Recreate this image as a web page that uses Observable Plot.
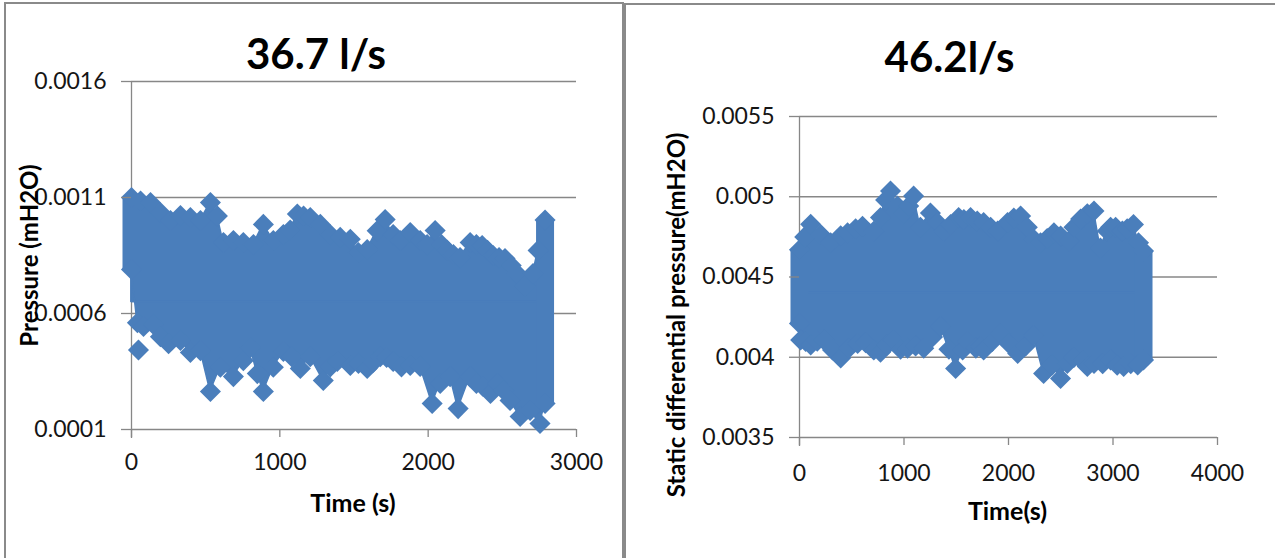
<!DOCTYPE html>
<html>
<head>
<meta charset="utf-8">
<script src="https://cdn.jsdelivr.net/npm/d3@7"></script>
<script src="https://cdn.jsdelivr.net/npm/@observablehq/plot@0.6"></script>
<style>
  html, body { margin: 0; padding: 0; background: #fff; width: 1275px; height: 558px; overflow: hidden; }
  .panel { position: absolute; box-sizing: border-box; border: 2px solid #8a8a8a; border-bottom: none; }
  #panelLeft { left: 4px; top: 2px; width: 620px; height: 600px; }
  #panelRight { left: 624px; top: 3px; width: 700px; height: 600px; }
  .chart { position: absolute; top: 0; }
  #chartLeft { left: 0; }
  #chartRight { left: 625px; }
</style>
</head>
<body>
<div class="panel" id="panelLeft"></div>
<div class="panel" id="panelRight"></div>
<div class="chart" id="chartLeft"></div>
<div class="chart" id="chartRight"></div>
<script>
// ---- 36.7 l/s run: upper and lower edge of the reading cloud ----
const flowATitle = "36.7 l/s";
const flowAYLabel = "Pressure (mH2O)";
const flowAXLabel = "Time (s)";
const flowATopTime = [0, 61, 128, 195, 263, 330, 397, 465, 532, 579, 620, 687, 754, 822, 889, 956, 1024, 1070, 1118, 1160, 1205, 1273, 1340, 1407, 1475, 1529, 1589, 1656, 1710, 1764, 1811, 1879, 1946, 1993, 2047, 2090, 2128, 2170, 2215, 2283, 2325, 2364, 2400, 2438, 2478, 2518, 2560, 2599, 2653, 2707, 2741, 2788];
const flowATopValue = [0.00110, 0.001085, 0.001078, 0.001035, 0.001001, 0.001022, 0.001014, 0.001001, 0.001078, 0.00102, 0.000906, 0.000915, 0.000906, 0.000897, 0.000984, 0.000915, 0.00094, 0.00096, 0.001029, 0.00102, 0.001014, 0.000984, 0.00094, 0.000928, 0.00092, 0.000863, 0.000876, 0.000957, 0.001005, 0.00094, 0.000915, 0.000949, 0.000915, 0.000897, 0.000958, 0.000897, 0.000872, 0.000854, 0.000841, 0.000906, 0.000897, 0.000893, 0.000872, 0.00085, 0.000841, 0.000837, 0.000807, 0.000772, 0.00072, 0.000772, 0.000872, 0.001003];
const flowABottomTime = [0, 40, 81, 148, 195, 250, 330, 397, 465, 532, 599, 687, 754, 801, 848, 889, 956, 1024, 1080, 1138, 1205, 1293, 1340, 1387, 1475, 1530, 1589, 1630, 1677, 1720, 1764, 1820, 1879, 1946, 2027, 2081, 2148, 2202, 2283, 2325, 2370, 2420, 2465, 2510, 2552, 2620, 2687, 2754, 2788];
const flowABottomValue = [0.00079, 0.00056, 0.000544, 0.000553, 0.0005, 0.00047, 0.000484, 0.000432, 0.00044, 0.000264, 0.000368, 0.000328, 0.000397, 0.000453, 0.000341, 0.000264, 0.000368, 0.000436, 0.000414, 0.000363, 0.000414, 0.000311, 0.00037, 0.000393, 0.000376, 0.000385, 0.000363, 0.00039, 0.000414, 0.00041, 0.000393, 0.00037, 0.000376, 0.000372, 0.000212, 0.000298, 0.000328, 0.00019, 0.000328, 0.000298, 0.000285, 0.000255, 0.000298, 0.000268, 0.000225, 0.000156, 0.000182, 0.000126, 0.000212];
const flowAStrayTime = [47];
const flowAStrayValue = [0.000443];
const flowACore = 0.00065;
const flowAXDomain = [0, 3000];
const flowAXTicks = [0, 1000, 2000, 3000];
const flowAYDomain = [0.0001, 0.0016];
const flowAYTicks = [0.0001, 0.0006, 0.0011, 0.0016];
const flowAYTickLabels = ["0.0001", "0.0006", "0.0011", "0.0016"];

// ---- 46.2 l/s run ----
const flowBTitle = "46.2l/s";
const flowBYLabel = "Static differential pressure(mH2O)";
const flowBXLabel = "Time(s)";
const flowBTopTime = [0, 50, 107, 203, 298, 394, 460, 537, 603, 711, 775, 824, 871, 938, 996, 1045, 1092, 1157, 1253, 1320, 1380, 1446, 1523, 1573, 1637, 1701, 1762, 1829, 1896, 1991, 2051, 2116, 2180, 2244, 2307, 2370, 2435, 2499, 2578, 2626, 2690, 2754, 2818, 2880, 2945, 2977, 3025, 3090, 3136, 3196, 3244, 3292];
const flowBTopValue = [0.00467, 0.00475, 0.004828, 0.004765, 0.004713, 0.004757, 0.004775, 0.0048, 0.004816, 0.004785, 0.00487, 0.00498, 0.005036, 0.004942, 0.004894, 0.004942, 0.005004, 0.00481, 0.004899, 0.00484, 0.004785, 0.004827, 0.00487, 0.004858, 0.00487, 0.004849, 0.00484, 0.00481, 0.004787, 0.00484, 0.004867, 0.00488, 0.00481, 0.004734, 0.004713, 0.00474, 0.004775, 0.004755, 0.004724, 0.00481, 0.004861, 0.004894, 0.004911, 0.00468, 0.004787, 0.00481, 0.00481, 0.004787, 0.0048, 0.004827, 0.004713, 0.004662];
const flowBBottomTime = [0, 11, 59, 107, 170, 232, 316, 394, 472, 556, 633, 711, 775, 840, 899, 967, 1034, 1111, 1189, 1273, 1350, 1430, 1494, 1561, 1609, 1688, 1733, 1762, 1845, 1925, 2003, 2088, 2164, 2240, 2336, 2419, 2498, 2563, 2626, 2706, 2754, 2818, 2901, 2977, 3040, 3102, 3170, 3236, 3292];
const flowBBottomValue = [0.00421, 0.004107, 0.004098, 0.004076, 0.0041, 0.004107, 0.004045, 0.003995, 0.004056, 0.004086, 0.00409, 0.004045, 0.004031, 0.004076, 0.004107, 0.00405, 0.004056, 0.00407, 0.004056, 0.004126, 0.004192, 0.00405, 0.00393, 0.004045, 0.004098, 0.004056, 0.004067, 0.004045, 0.004098, 0.004148, 0.004086, 0.004023, 0.00407, 0.004136, 0.003899, 0.003952, 0.003868, 0.003961, 0.003998, 0.00398, 0.003942, 0.003961, 0.00396, 0.003983, 0.00395, 0.003942, 0.00396, 0.003952, 0.003983];
const flowBStrayTime = [];
const flowBStrayValue = [];
const flowBCore = 0.0044;
const flowBXDomain = [0, 4000];
const flowBXTicks = [0, 1000, 2000, 3000, 4000];
const flowBYDomain = [0.0035, 0.0055];
const flowBYTicks = [0.0035, 0.004, 0.0045, 0.005, 0.0055];
const flowBYTickLabels = ["0.0035", "0.004", "0.0045", "0.005", "0.0055"];

const MARKER = "#4A7EBB";
const GRID = "#878787";
const INK = "#151515";

function pairs(times, values) {
  return times.map((t, i) => ({t, v: values[i]}));
}

function pressurePanel(o) {
  const top = pairs(o.topTime, o.topValue);
  const bottom = pairs(o.bottomTime, o.bottomValue);
  const stray = pairs(o.strayTime, o.strayValue);
  const n = o.topTime.length - 1, m = o.bottomTime.length - 1;
  // first and last reading columns span the full spread at that instant
  const columns = [
    {t: o.topTime[0], lo: o.bottomValue[0], hi: o.topValue[0]},
    {t: o.topTime[n], lo: o.bottomValue[m], hi: o.topValue[n]}
  ];
  const fmt = (d) => o.yTickLabels[o.yTicks.indexOf(d)];
  return Plot.plot({
    width: o.width,
    height: 558,
    marginLeft: o.margin[3],
    marginTop: o.margin[0],
    marginRight: o.margin[1],
    marginBottom: o.margin[2],
    style: {fontFamily: "Lato, 'Open Sans', sans-serif", fontSize: "23px", background: "transparent", overflow: "visible"},
    x: {domain: o.xDomain},
    y: {domain: o.yDomain},
    marks: [
      Plot.gridY(o.yTicks, {stroke: GRID, strokeOpacity: 1, strokeWidth: 1.3}),
      Plot.ruleX([o.xDomain[0]], {stroke: GRID, strokeWidth: 1.3, insetBottom: -9}),
      Plot.areaY(top, {x: "t", y1: o.core, y2: "v", fill: MARKER, stroke: MARKER, strokeWidth: 1.5}),
      Plot.areaY(bottom, {x: "t", y1: "v", y2: o.core, fill: MARKER, stroke: MARKER, strokeWidth: 1.5}),
      Plot.ruleX(columns, {x: "t", y1: "lo", y2: "hi", stroke: MARKER, strokeWidth: 18}),
      Plot.dot([...top, ...bottom, ...stray], {x: "t", y: "v", symbol: "diamond2", r: 9.5, fill: MARKER}),
      Plot.axisY({ticks: o.yTicks, tickFormat: fmt, tickSize: 10, tickPadding: 15, stroke: GRID, strokeWidth: 1.3, color: INK, fontSize: 23, label: null}),
      Plot.axisX({ticks: o.xTicks, tickFormat: (d) => String(d), tickSize: 8, tickPadding: o.xPad, stroke: GRID, strokeWidth: 1.3, color: INK, fontSize: 23, label: null}),
      Plot.text([o.title], {frameAnchor: "top", text: (d) => d, dx: o.titleDx, dy: o.titleDy, fontSize: 42, fontWeight: "bold", fill: "#000", lineAnchor: "middle"}),
      Plot.text([o.xLabel], {frameAnchor: "bottom", text: (d) => d, dx: o.xLabelDx, dy: o.xLabelDy, fontSize: 25, fontWeight: "bold", fill: "#000", lineAnchor: "middle"}),
      Plot.text([o.yLabel], {frameAnchor: "left", text: (d) => d, dx: o.yLabelDx, dy: o.yLabelDy, rotate: -90, fontSize: 24, fontWeight: "bold", fill: "#000", textAnchor: "middle", lineAnchor: "middle"})
    ]
  });
}

document.getElementById("chartLeft").append(pressurePanel({
  width: 620, margin: [81, 44, 129, 131],
  title: flowATitle, xLabel: flowAXLabel, yLabel: flowAYLabel,
  topTime: flowATopTime, topValue: flowATopValue,
  bottomTime: flowABottomTime, bottomValue: flowABottomValue,
  strayTime: flowAStrayTime, strayValue: flowAStrayValue,
  core: flowACore, xDomain: flowAXDomain, xTicks: flowAXTicks,
  yDomain: flowAYDomain, yTicks: flowAYTicks, yTickLabels: flowAYTickLabels,
  xPad: 16, titleDx: -38, titleDy: -26, xLabelDx: -1, xLabelDy: 74, yLabelDx: -101, yLabelDy: 0
}));

document.getElementById("chartRight").append(pressurePanel({
  width: 650, margin: [116, 58, 121, 174],
  title: flowBTitle, xLabel: flowBXLabel, yLabel: flowBYLabel,
  topTime: flowBTopTime, topValue: flowBTopValue,
  bottomTime: flowBBottomTime, bottomValue: flowBBottomValue,
  strayTime: flowBStrayTime, strayValue: flowBStrayValue,
  core: flowBCore, xDomain: flowBXDomain, xTicks: flowBXTicks,
  yDomain: flowBYDomain, yTicks: flowBYTicks, yTickLabels: flowBYTickLabels,
  xPad: 19, titleDx: -59, titleDy: -58, xLabelDx: -1, xLabelDy: 74, yLabelDx: -122, yLabelDy: 38
}));
</script>
</body>
</html>
